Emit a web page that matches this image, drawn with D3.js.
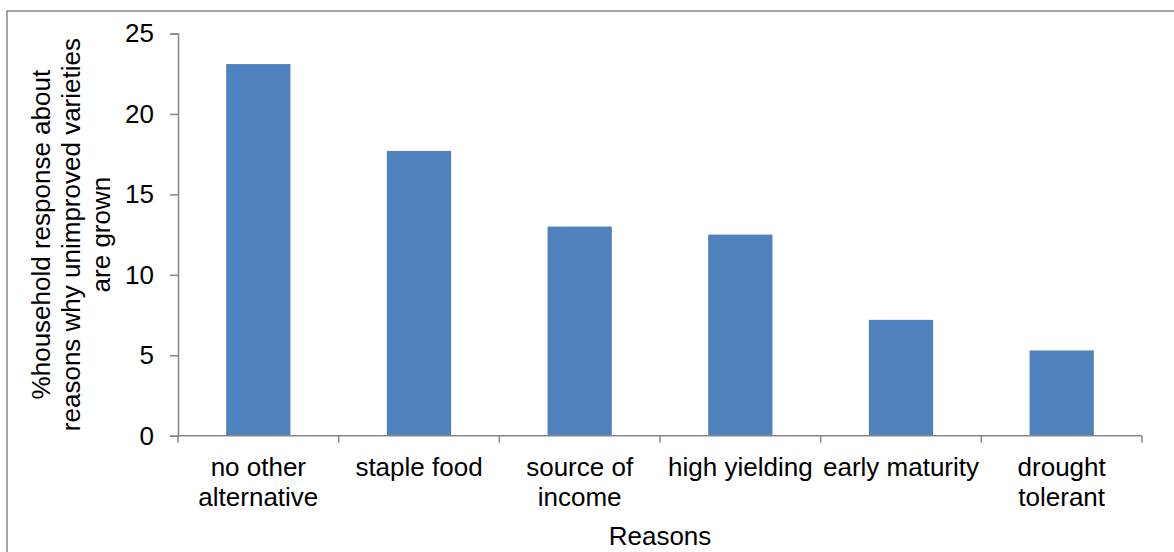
<!DOCTYPE html>
<html>
<head>
<meta charset="utf-8">
<script src="https://cdn.jsdelivr.net/npm/d3@7"></script>
<style>
  html, body { margin: 0; padding: 0; background: #fff; }
  svg { display: block; }
  text { font-family: "Liberation Sans", Arial, sans-serif; fill: #000; }
</style>
</head>
<body>
<svg id="chart" width="1174" height="552"></svg>
<script>
// Reasons why unimproved varieties are grown (% of household responses)
const categories = [
  "no other\nalternative",
  "staple food",
  "source of\nincome",
  "high yielding",
  "early maturity",
  "drought\ntolerant"
];
const values = [23.1, 17.7, 13.0, 12.5, 7.2, 5.3];
const yTicks = [0, 5, 10, 15, 20, 25];
const yTitleLines = ["%household response about", "reasons why unimproved varieties", "are grown"];
const xTitle = "Reasons";

const svg = d3.select("#chart");
const fontSize = 26;
const axisColor = "#868686";

const plot = { left: 178, right: 1142, top: 33.5, bottom: 435.7 };

// Outer chart frame (runs off the right and bottom edges)
svg.append("rect")
  .attr("x", 7).attr("y", 11)
  .attr("width", 1300).attr("height", 700)
  .attr("fill", "none")
  .attr("stroke", "#888")
  .attr("stroke-width", 1.5);

const x = d3.scaleBand()
  .domain(categories)
  .range([plot.left, plot.right])
  .paddingInner(0.6)
  .paddingOuter(0.3);

const y = d3.scaleLinear()
  .domain([0, 25])
  .range([plot.bottom, plot.top]);

// Bars
svg.append("g")
  .selectAll("rect")
  .data(values)
  .join("rect")
  .attr("x", (d, i) => x(categories[i]))
  .attr("y", d => y(d))
  .attr("width", x.bandwidth())
  .attr("height", d => y(0) - y(d))
  .attr("fill", "#4F81BD");

// Y axis
const yAxis = svg.append("g")
  .attr("transform", `translate(${plot.left},0)`)
  .call(d3.axisLeft(y).tickValues(yTicks).tickSize(8).tickPadding(16).tickFormat(d3.format("d")));
yAxis.select(".domain").attr("stroke", axisColor).attr("stroke-width", 1.5);
yAxis.selectAll(".tick line").attr("stroke", axisColor).attr("stroke-width", 1.5);
yAxis.selectAll(".tick text")
  .attr("font-size", fontSize)
  .attr("font-family", "Liberation Sans, Arial, sans-serif")
  .attr("fill", "#000");

// X axis: baseline with tick marks on category boundaries
const xAxis = svg.append("g")
  .attr("transform", `translate(0,${plot.bottom})`)
  .call(d3.axisBottom(x).tickSize(0).tickFormat(""));
xAxis.select(".domain").remove();
xAxis.selectAll(".tick").remove();
xAxis.append("line")
  .attr("x1", plot.left).attr("x2", plot.right)
  .attr("y1", 0).attr("y2", 0)
  .attr("stroke", axisColor).attr("stroke-width", 1.5);
const boundaries = categories.map(c => x(c) - x.step() * x.paddingInner() / 2 - (c === categories[0] ? x.step() * (x.paddingOuter() - x.paddingInner() / 2) : 0));
boundaries.push(plot.right);
xAxis.selectAll("line.bound")
  .data(boundaries)
  .join("line")
  .attr("class", "bound")
  .attr("x1", d => d).attr("x2", d => d)
  .attr("y1", 0).attr("y2", 7)
  .attr("stroke", axisColor).attr("stroke-width", 1.5);

// Category labels (wrapped onto lines)
const labels = svg.append("g");
categories.forEach(c => {
  const t = labels.append("text")
    .attr("text-anchor", "middle")
    .attr("font-size", fontSize)
    .attr("x", x(c) + x.bandwidth() / 2)
    .attr("y", 476);
  c.split("\n").forEach((line, j) => {
    t.append("tspan")
      .attr("x", x(c) + x.bandwidth() / 2)
      .attr("dy", j === 0 ? 0 : 30)
      .text(line);
  });
});

// X axis title
svg.append("text")
  .attr("text-anchor", "middle")
  .attr("font-size", fontSize)
  .attr("x", (plot.left + plot.right) / 2)
  .attr("y", 545)
  .text(xTitle);

// Y axis title (three rotated lines)
const yt = svg.append("text")
  .attr("text-anchor", "middle")
  .attr("font-size", fontSize)
  .attr("transform", `translate(0,${(plot.top + plot.bottom) / 2}) rotate(-90)`);
yTitleLines.forEach((line, j) => {
  yt.append("tspan")
    .attr("x", 0)
    .attr("y", 50 + j * 30)
    .text(line);
});
</script>
</body>
</html>
